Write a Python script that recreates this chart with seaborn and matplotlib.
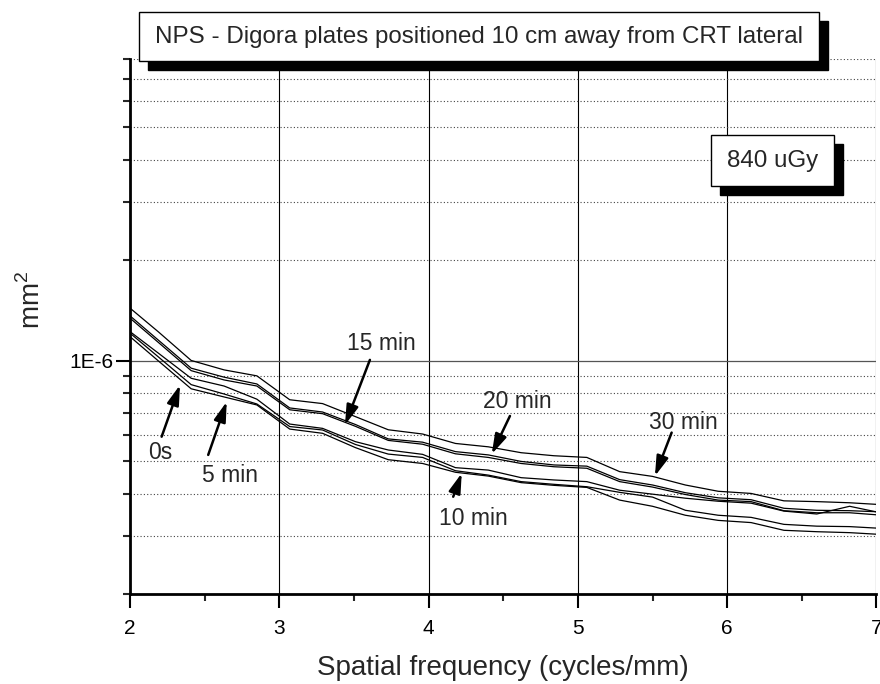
import pandas as pd
import matplotlib
matplotlib.use("Agg")
import matplotlib.pyplot as plt
import seaborn as sns
from matplotlib.patches import Rectangle
from matplotlib.ticker import FixedLocator, LogLocator, NullFormatter, FixedFormatter

# spatial frequency samples (cycles/mm)
freq = [1.97, 2.19, 2.41, 2.63, 2.85, 3.07, 3.29, 3.51, 3.73, 3.96, 4.18, 4.40,
        4.62, 4.84, 5.06, 5.28, 5.50, 5.72, 5.94, 6.16, 6.38, 6.60, 6.82, 7.04]

# NPS values (mm^2)
nps_0s = [12.14e-7, 10.00e-7, 8.25e-7, 7.80e-7, 7.38e-7, 6.25e-7, 6.07e-7, 5.50e-7,
          5.06e-7, 4.93e-7, 4.64e-7, 4.52e-7, 4.32e-7, 4.24e-7, 4.18e-7, 3.83e-7,
          3.67e-7, 3.45e-7, 3.33e-7, 3.28e-7, 3.11e-7, 3.08e-7, 3.06e-7, 3.02e-7]
nps_5min = [12.43e-7, 10.28e-7, 8.49e-7, 7.96e-7, 7.43e-7, 6.36e-7, 6.21e-7, 5.62e-7,
            5.26e-7, 5.14e-7, 4.69e-7, 4.55e-7, 4.35e-7, 4.27e-7, 4.20e-7, 4.04e-7,
            3.91e-7, 3.57e-7, 3.45e-7, 3.40e-7, 3.24e-7, 3.20e-7, 3.19e-7, 3.15e-7]
nps_10min = [12.53e-7, 10.55e-7, 8.87e-7, 8.41e-7, 7.68e-7, 6.47e-7, 6.28e-7, 5.73e-7,
             5.41e-7, 5.25e-7, 4.79e-7, 4.71e-7, 4.47e-7, 4.40e-7, 4.35e-7, 4.10e-7,
             3.99e-7, 3.88e-7, 3.80e-7, 3.75e-7, 3.55e-7, 3.48e-7, 3.67e-7, 3.50e-7]
nps_15min = [13.79e-7, 11.36e-7, 9.35e-7, 8.77e-7, 8.41e-7, 7.14e-7, 6.95e-7, 6.37e-7,
             5.78e-7, 5.63e-7, 5.27e-7, 5.14e-7, 4.93e-7, 4.82e-7, 4.77e-7, 4.35e-7,
             4.19e-7, 3.98e-7, 3.83e-7, 3.79e-7, 3.56e-7, 3.51e-7, 3.51e-7, 3.45e-7]
nps_20min = [14.01e-7, 11.54e-7, 9.51e-7, 8.94e-7, 8.53e-7, 7.23e-7, 7.03e-7, 6.45e-7,
             5.84e-7, 5.71e-7, 5.35e-7, 5.23e-7, 5.00e-7, 4.88e-7, 4.84e-7, 4.41e-7,
             4.25e-7, 4.03e-7, 3.89e-7, 3.84e-7, 3.62e-7, 3.57e-7, 3.56e-7, 3.53e-7]
nps_30min = [14.77e-7, 12.22e-7, 10.03e-7, 9.40e-7, 9.02e-7, 7.65e-7, 7.45e-7, 6.81e-7,
             6.22e-7, 6.04e-7, 5.66e-7, 5.53e-7, 5.31e-7, 5.20e-7, 5.14e-7, 4.66e-7,
             4.51e-7, 4.25e-7, 4.07e-7, 4.01e-7, 3.81e-7, 3.79e-7, 3.76e-7, 3.71e-7]

times = ["0s", "5 min", "10 min", "15 min", "20 min", "30 min"]
series = [nps_0s, nps_5min, nps_10min, nps_15min, nps_20min, nps_30min]

x_ticks = [2, 3, 4, 5, 6, 7]
y_major = [1e-6]
y_major_labels = ["1E-6"]

df = pd.concat(
    [pd.DataFrame({"freq": freq, "nps": vals, "time": t}) for t, vals in zip(times, series)],
    ignore_index=True,
)

sns.set_theme(style="white")
plt.rcParams["font.family"] = ["Liberation Sans", "DejaVu Sans"]
plt.rcParams["mathtext.fontset"] = "custom"
plt.rcParams["mathtext.rm"] = "Liberation Sans"

fig = plt.figure(figsize=(8.8, 6.84), dpi=100)
ax = fig.add_axes([0.1477, 0.1311, 0.8483, 0.7822])

sns.lineplot(data=df, x="freq", y="nps", hue="time", palette=["black"] * 6,
             legend=False, estimator=None, sort=False, lw=0.9, ax=ax, zorder=3)

ax.set_yscale("log")
ax.set_xlim(2, 7)
ax.set_ylim(2e-7, 8e-6)

ax.xaxis.set_major_locator(FixedLocator(x_ticks))
ax.xaxis.set_minor_locator(FixedLocator([2.5, 3.5, 4.5, 5.5, 6.5]))
ax.yaxis.set_major_locator(FixedLocator(y_major))
ax.yaxis.set_major_formatter(FixedFormatter(y_major_labels))
ax.yaxis.set_minor_locator(LogLocator(base=10, subs=range(2, 10)))
ax.yaxis.set_minor_formatter(NullFormatter())

ax.tick_params(which="major", direction="out", length=10, width=1.5, labelsize=15,
               colors="black", bottom=True, left=True)
ax.tick_params(which="minor", direction="out", length=5, width=1.5,
               bottom=True, left=True)
ax.tick_params(axis="x", pad=8)
ax.tick_params(axis="y", pad=2)

for s in ["top", "right"]:
    ax.spines[s].set_visible(False)
for s in ["left", "bottom"]:
    ax.spines[s].set_linewidth(2)
    ax.spines[s].set_color("black")

ax.grid(False)
ax.xaxis.grid(True, which="major", color="black", lw=0.8)
ax.yaxis.grid(True, which="major", color="#555555", lw=0.9)
ax.yaxis.grid(True, which="minor", color="#444444", lw=0.8, ls=(0, (1, 2)))

ax.set_xlabel("Spatial frequency (cycles/mm)", fontsize=20, labelpad=12)
ax.set_ylabel("mm$^{2}$", fontsize=20)
ax.yaxis.set_label_coords(-0.113, 0.55)

# curve annotations: (label, text pos, arrow tail, arrow tip)
notes = [
    ("0s", (2.20, 5.33e-7), (2.212, 5.93e-7), (2.335, 8.47e-7)),
    ("5 min", (2.67, 4.55e-7), (2.524, 5.23e-7), (2.648, 7.55e-7)),
    ("15 min", (3.686, 1.13e-6), (3.607, 1.007e-6), (3.44, 6.43e-7)),
    ("20 min", (4.592, 7.55e-7), (4.545, 6.84e-7), (4.423, 5.26e-7)),
    ("10 min", (4.297, 3.375e-7), (4.165, 3.92e-7), (4.222, 4.61e-7)),
    ("30 min", (5.706, 6.53e-7), (5.628, 6.10e-7), (5.516, 4.52e-7)),
]
for label, tpos, tail, tip in notes:
    ax.text(tpos[0], tpos[1], label, fontsize=16.5, ha="center", va="center", zorder=5)
    ax.annotate("", xy=tip, xytext=tail,
                arrowprops=dict(arrowstyle="-|>,head_length=1.0,head_width=0.3",
                                color="black", lw=1.8, shrinkA=0, shrinkB=0),
                zorder=5)


def shadow_box(px0, py0, px1, py1, off, text, size):
    W, H = 880.0, 684.0
    sh = Rectangle((px0 / W + off / W, 1 - (py1 + off) / H), (px1 - px0) / W, (py1 - py0) / H,
                   transform=fig.transFigure, facecolor="black", edgecolor="black", zorder=10)
    bx = Rectangle((px0 / W, 1 - py1 / H), (px1 - px0) / W, (py1 - py0) / H,
                   transform=fig.transFigure, facecolor="white", edgecolor="black",
                   lw=1.0, zorder=11)
    fig.add_artist(sh)
    fig.add_artist(bx)
    fig.text((px0 + px1) / 2 / W, 1 - (py0 + py1) / 2 / H, text, fontsize=size,
             ha="center", va="center", zorder=12)


shadow_box(139, 12, 819, 61, 9, "NPS - Digora plates positioned 10 cm away from CRT lateral", 17.4)
shadow_box(711, 135, 834, 186, 8.5, "840 uGy", 17.4)

fig.savefig("out.png", dpi=100, facecolor="white")
